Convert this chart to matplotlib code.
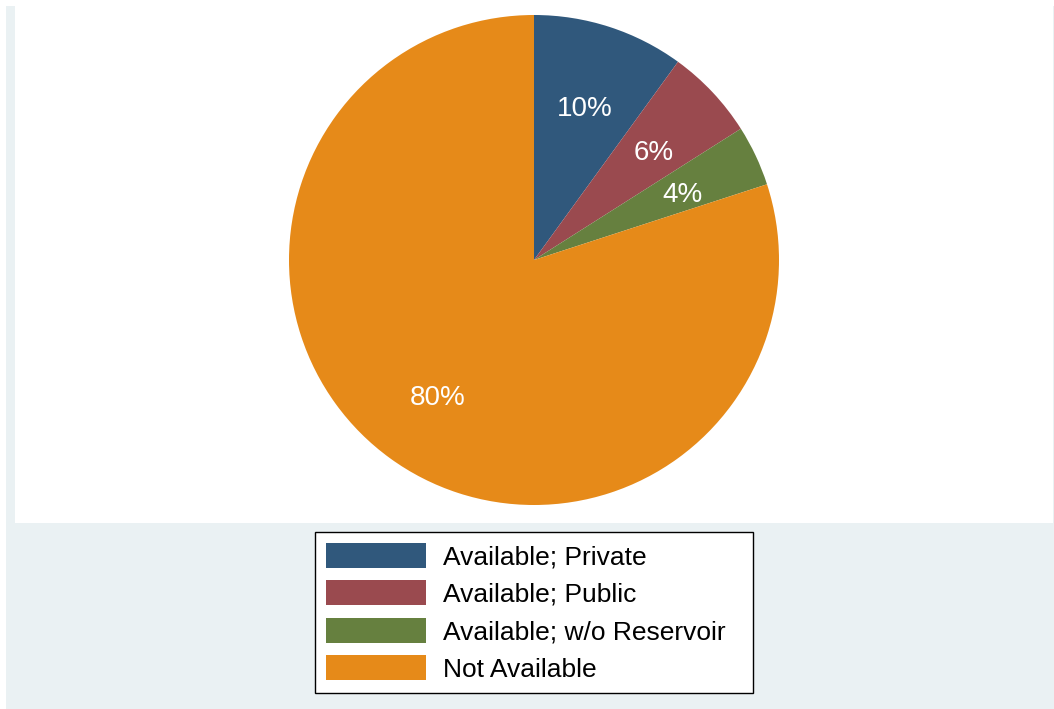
import matplotlib.pyplot as plt
from matplotlib.patches import Rectangle
from matplotlib.transforms import ScaledTranslation

labels = ['Available; Private', 'Available; Public', 'Available; w/o Reservoir', 'Not Available']
shares = [10, 6, 4, 80]
colors = ['#30587C', '#9A4A4F', '#66803F', '#E68A19']

plt.rcParams['font.family'] = ['Liberation Sans', 'DejaVu Sans']

W, H = 1054, 709
fig = plt.figure(figsize=(W / 100, H / 100), dpi=100)
fig.patch.set_facecolor('white')

# stata-ish graph region + plot region
fig.patches.append(Rectangle((6 / W, 0), (W - 6) / W, (H - 6) / H,
                             transform=fig.transFigure, facecolor='#EAF1F3',
                             edgecolor='none', zorder=0))
fig.patches.append(Rectangle((15 / W, (H - 523) / H), (1053 - 15) / W, 523 / H,
                             transform=fig.transFigure, facecolor='white',
                             edgecolor='none', zorder=0))

cx, cy, r = 534, 260, 245
ax = fig.add_axes([(cx - r) / W, (H - cy - r) / H, 2 * r / W, 2 * r / H])
ax.set_zorder(2)
ax.set_facecolor('none')
wedges, texts, autotexts = ax.pie(shares, colors=colors, startangle=90, counterclock=False,
                                  autopct='%d%%', pctdistance=0.67, radius=1,
                                  wedgeprops=dict(linewidth=0),
                                  textprops=dict(color='white', fontsize=20))
# labels sit a touch lower in the original
for t in autotexts:
    t.set_transform(t.get_transform() + ScaledTranslation(0, -0.05, fig.dpi_scale_trans))
ax.set_xlim(-1, 1)
ax.set_ylim(-1, 1)
ax.set_aspect('equal')
ax.axis('off')

leg = fig.legend(wedges, labels, loc='upper left', mode='expand',
                 bbox_to_anchor=(315 / W, (H - 693) / H, 438 / W, 161 / H), borderaxespad=0,
                 fontsize=19, frameon=True, fancybox=False, edgecolor='black', framealpha=1,
                 handlelength=3.8, handleheight=1.06, handletextpad=0.64,
                 labelspacing=0.42, borderpad=0.42)
leg.get_frame().set_linewidth(1.0)
leg.set_zorder(3)

fig.savefig('out.png', dpi=100)
